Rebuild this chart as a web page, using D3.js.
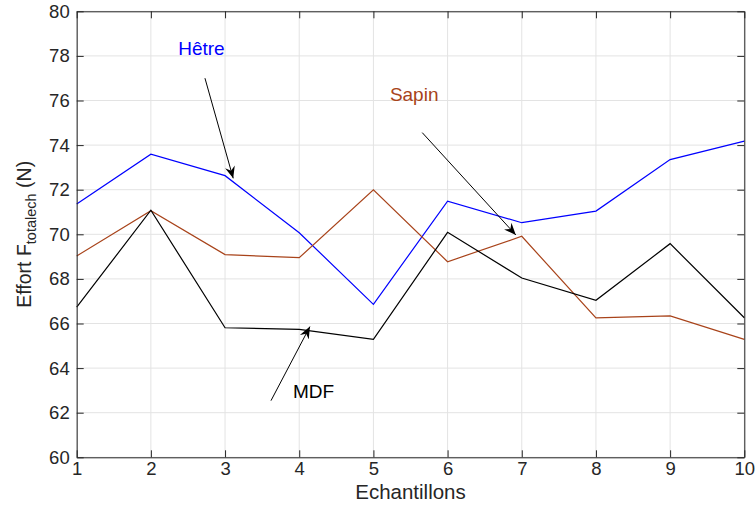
<!DOCTYPE html>
<html>
<head>
<meta charset="utf-8">
<script src="https://cdn.jsdelivr.net/npm/d3@7"></script>
<style>
  html, body { margin: 0; padding: 0; background: #fff; }
  svg { display: block; font-family: "Liberation Sans", Arial, Helvetica, sans-serif; }
</style>
</head>
<body>
<svg id="chart" width="755" height="506"></svg>
<script>
// ---- Data ----
const samples = [1, 2, 3, 4, 5, 6, 7, 8, 9, 10];
const hetre = [71.36, 73.59, 72.63, 70.07, 66.86, 71.49, 70.52, 71.04, 73.35, 74.18];
const sapin = [69.03, 71.06, 69.09, 68.95, 72.00, 68.77, 69.91, 66.25, 66.34, 65.29];
const mdf   = [66.73, 71.08, 65.81, 65.74, 65.29, 70.09, 68.04, 67.04, 69.58, 66.26];
const xTicks = [1, 2, 3, 4, 5, 6, 7, 8, 9, 10];
const yTicks = [60, 62, 64, 66, 68, 70, 72, 74, 76, 78, 80];
const seriesNames = ["Hêtre", "Sapin", "MDF"];
const seriesColors = ["#0000ff", "#a8431a", "#000000"];
const xLabel = "Echantillons";

// ---- Layout ----
const svg = d3.select("#chart");
const L = 76.7, R = 744.3, T = 11.3, B = 457.3;
const x = d3.scaleLinear().domain([1, 10]).range([L, R]);
const y = d3.scaleLinear().domain([60, 80]).range([B, T]);
const axisColor = "#262626";
const gridColor = "#e3e3e3";

// grid
const grid = svg.append("g");
grid.selectAll(".gx").data(xTicks).enter().append("line")
  .attr("x1", d => x(d)).attr("x2", d => x(d)).attr("y1", T).attr("y2", B)
  .attr("stroke", gridColor).attr("stroke-width", 1);
grid.selectAll(".gy").data(yTicks).enter().append("line")
  .attr("y1", d => y(d)).attr("y2", d => y(d)).attr("x1", L).attr("x2", R)
  .attr("stroke", gridColor).attr("stroke-width", 1);

// lines
const line = d3.line().x((d, i) => x(samples[i])).y(d => y(d));
[hetre, sapin, mdf].forEach((s, k) => {
  svg.append("path").datum(s).attr("d", line)
    .attr("fill", "none").attr("stroke", seriesColors[k]).attr("stroke-width", 1.2);
});

// axes
const fs = 18.5;
function styleAxis(g) {
  g.select(".domain").attr("stroke", axisColor).attr("stroke-width", 1);
  g.selectAll(".tick line").attr("stroke", axisColor).attr("stroke-width", 1);
  g.selectAll(".tick text").attr("fill", axisColor).style("font-size", fs + "px")
    .style("font-family", '"Liberation Sans", Arial, sans-serif');
}
const gb = svg.append("g").attr("transform", `translate(0,${B})`)
  .call(d3.axisBottom(x).tickValues(xTicks).tickFormat(d3.format("d")).tickSize(-7).tickSizeOuter(0).tickPadding(5));
styleAxis(gb);
const gt = svg.append("g").attr("transform", `translate(0,${T})`)
  .call(d3.axisTop(x).tickValues(xTicks).tickFormat("").tickSize(-7).tickSizeOuter(0));
styleAxis(gt);
const gl = svg.append("g").attr("transform", `translate(${L},0)`)
  .call(d3.axisLeft(y).tickValues(yTicks).tickFormat(d3.format("d")).tickSize(-7).tickSizeOuter(0).tickPadding(7));
styleAxis(gl);
const gr = svg.append("g").attr("transform", `translate(${R},0)`)
  .call(d3.axisRight(y).tickValues(yTicks).tickFormat("").tickSize(-7).tickSizeOuter(0));
styleAxis(gr);

// axis labels
svg.append("text").attr("x", (L + R) / 2).attr("y", 499)
  .attr("text-anchor", "middle").attr("fill", axisColor)
  .style("font-size", "20.5px").text(xLabel);

const yl = svg.append("text")
  .attr("transform", `translate(31,${(T + B) / 2}) rotate(-90)`)
  .attr("text-anchor", "middle").attr("fill", axisColor)
  .style("font-size", "19.5px");
yl.append("tspan").text("Effort F");
yl.append("tspan").attr("dy", 5).style("font-size", "14.5px").text("totalech");
yl.append("tspan").attr("dy", -5).text(" (N)");

// arrow marker
svg.append("defs").append("marker")
  .attr("id", "ah").attr("viewBox", "-12 -6 14 12")
  .attr("refX", 0).attr("refY", 0)
  .attr("markerWidth", 14).attr("markerHeight", 12)
  .attr("markerUnits", "userSpaceOnUse")
  .attr("orient", "auto")
  .append("path").attr("d", "M0,0 L-12,-5 L-8,0 L-12,5 Z").attr("fill", "#000");

// annotations (data coordinates)
const annotations = [
  { name: seriesNames[0], color: seriesColors[0], tx: 2.368, ty: 78.26, a: [2.729, 77.0, 3.11, 72.51] },
  { name: seriesNames[1], color: seriesColors[1], tx: 5.222, ty: 76.2, a: [5.658, 74.56, 6.92, 69.97] },
  { name: seriesNames[2], color: seriesColors[2], tx: 3.915, ty: 62.88, a: [3.619, 62.54, 4.144, 65.86] }
];
annotations.forEach(an => {
  svg.append("line")
    .attr("x1", x(an.a[0])).attr("y1", y(an.a[1]))
    .attr("x2", x(an.a[2])).attr("y2", y(an.a[3]))
    .attr("stroke", "#000").attr("stroke-width", 1)
    .attr("marker-end", "url(#ah)");
  svg.append("text").attr("x", x(an.tx)).attr("y", y(an.ty))
    .attr("dominant-baseline", "middle").attr("fill", an.color)
    .style("font-size", "19px").text(an.name);
});
</script>
</body>
</html>
